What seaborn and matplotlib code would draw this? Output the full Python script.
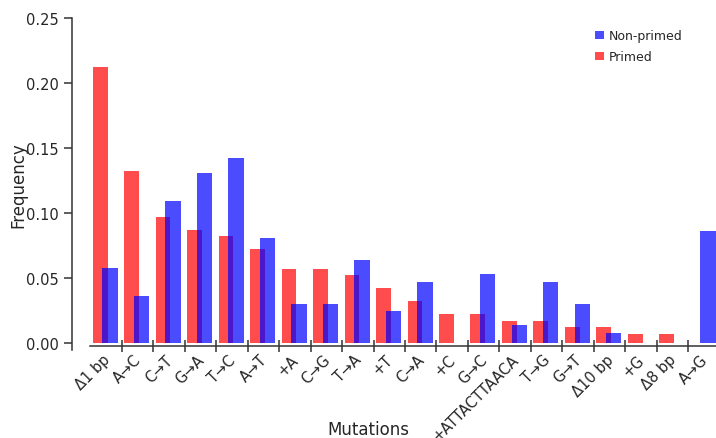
import numpy as np
import pandas as pd
import matplotlib
matplotlib.use("Agg")
import matplotlib.pyplot as plt
import matplotlib.transforms as mtransforms
import seaborn as sns

mutations = ["Δ1 bp", "A→C", "C→T", "G→A", "T→C", "A→T", "+A", "C→G", "T→A", "+T",
             "C→A", "+C", "G→C", "+ATTACTTAACA", "T→G", "G→T", "Δ10 bp", "+G", "Δ8 bp", "A→G"]
primed = [0.212, 0.132, 0.097, 0.087, 0.082, 0.072, 0.057, 0.057, 0.052, 0.042,
          0.032, 0.022, 0.022, 0.017, 0.017, 0.012, 0.012, 0.007, 0.007, 0.0]
non_primed = [0.058, 0.036, 0.109, 0.131, 0.142, 0.081, 0.030, 0.030, 0.064, 0.025,
              0.047, 0.0, 0.053, 0.014, 0.047, 0.030, 0.008, 0.0, 0.0, 0.086]

sns.set_style("ticks")
plt.rcParams['font.family'] = ['DejaVu Sans']
text_col = "#262626"

idx = np.arange(len(mutations))
df = pd.DataFrame({"pos": idx, "Primed": primed, "Non-primed": non_primed})

fig = plt.figure(figsize=(7.16, 4.39), dpi=100)
ax = fig.add_axes([72 / 716, 1 - 350.5 / 439, 1 - 72 / 716, (350.5 - 19) / 439])

# red bars sit left of the category centre, blue bars right, overlapping
sns.barplot(x=df["pos"] - 0.185, y=df["Primed"], native_scale=True, width=0.47,
            color=(1, 0, 0), saturation=1, alpha=0.7, linewidth=0, errorbar=None,
            label="Primed", ax=ax)
sns.barplot(x=df["pos"] + 0.13, y=df["Non-primed"], native_scale=True, width=0.49,
            color=(0, 0, 1), saturation=1, alpha=0.7, linewidth=0, errorbar=None,
            label="Non-primed", ax=ax)

ax.set_xlim(-1.078, 19.38)
ax.set_ylim(-0.005, 0.25)
ax.set_yticks([0.0, 0.05, 0.10, 0.15, 0.20, 0.25])
ax.set_yticklabels(["0.00", "0.05", "0.10", "0.15", "0.20", "0.25"])

ax.set_xticks(idx)
ax.set_xticklabels(mutations)
ax.set_xticks(idx[:-1] + 0.5, minor=True)
ax.tick_params(axis="x", which="major", length=0, pad=4, labelsize=10.5,
               labelcolor=text_col, labelrotation=45)
ax.tick_params(axis="x", which="minor", direction="inout", length=8, width=1.1, color="#333333")
ax.tick_params(axis="y", length=6, width=1.1, color="#333333", labelsize=10.5, labelcolor=text_col)

for side in ["top", "right"]:
    ax.spines[side].set_visible(False)
ax.spines["bottom"].set_position(("data", -0.0025))
ax.spines["bottom"].set_bounds(-0.5, 19.38)
for side in ["left", "bottom"]:
    ax.spines[side].set_linewidth(1.1)
    ax.spines[side].set_color("#333333")

ax.set_xlabel("Mutations", fontsize=12, color=text_col)
ax.xaxis.set_label_coords(0.46, -0.213)
ax.set_ylabel("Frequency", fontsize=12, color=text_col, labelpad=-1)

handles, labels = ax.get_legend_handles_labels()
ax.legend(handles[::-1], labels[::-1], loc="upper left", bbox_to_anchor=(0.795, 1.0),
          frameon=False, fontsize=9, handlelength=0.7, handleheight=0.7,
          handletextpad=0.4, labelspacing=0.65, labelcolor=text_col)

fig.canvas.draw()
shift = mtransforms.ScaledTranslation(-4 / 100, 0, fig.dpi_scale_trans)
for lab in ax.get_xticklabels():
    lab.set_ha("right")
    lab.set_rotation_mode("anchor")
    lab.set_transform(lab.get_transform() + shift)

fig.savefig("out.png", dpi=100)
